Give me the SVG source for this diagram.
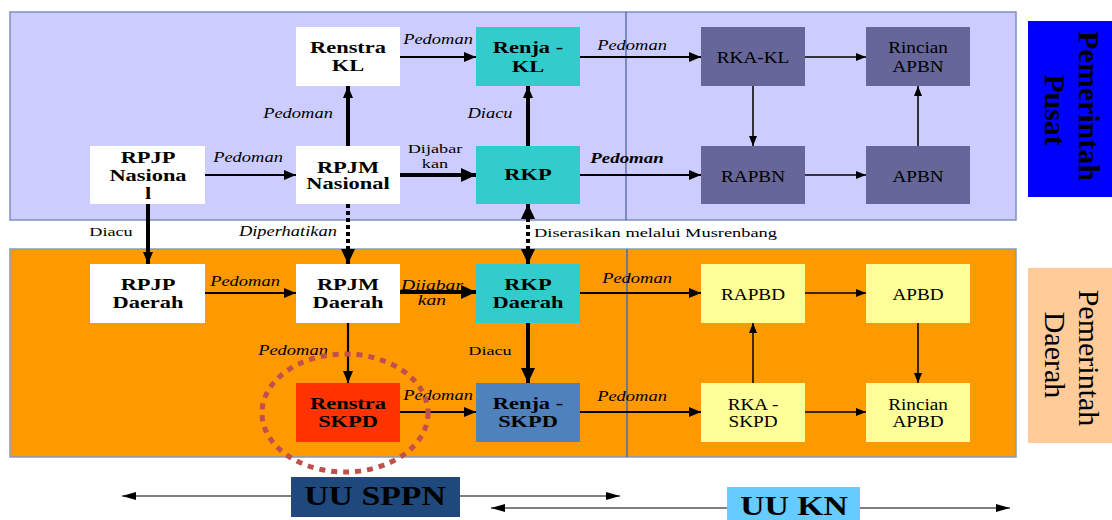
<svg xmlns="http://www.w3.org/2000/svg" width="1112" height="520" viewBox="0 0 1112 520">
<style>
.b{font-family:"Liberation Serif","Times New Roman",serif;font-weight:bold;font-size:16px;text-anchor:middle;fill:#000}
.r{font-family:"Liberation Serif","Times New Roman",serif;font-size:16px;text-anchor:middle;fill:#000}
.i{font-family:"Liberation Serif","Times New Roman",serif;font-style:italic;font-size:14px;text-anchor:middle;fill:#000}
.u{font-family:"Liberation Serif","Times New Roman",serif;font-size:13.5px;text-anchor:middle;fill:#000}
.side{font-family:"Liberation Serif","Times New Roman",serif;font-size:30px;text-anchor:middle;fill:#000}
.big{font-family:"Liberation Serif","Times New Roman",serif;font-weight:bold;font-size:27px;text-anchor:middle;fill:#000}
.ln{fill:none;stroke:#000}
.thin{stroke-width:1.5}
.mid{stroke-width:2.2}
.thick{stroke-width:4}
.dot{stroke-width:4;stroke-dasharray:4 3}
</style>
<defs>
<marker id="a1" markerUnits="userSpaceOnUse" markerWidth="10" markerHeight="8" refX="10" refY="4" orient="auto"><path d="M0,0L10,4L0,8z" fill="#000"/></marker>
<marker id="a2" markerUnits="userSpaceOnUse" markerWidth="12" markerHeight="10" refX="12" refY="5" orient="auto"><path d="M0,0L12,5L0,10z" fill="#000"/></marker>
<marker id="a3" markerUnits="userSpaceOnUse" markerWidth="15" markerHeight="14" refX="15" refY="7" orient="auto-start-reverse"><path d="M0,0L15,7L0,14z" fill="#000"/></marker>
<marker id="a0" markerUnits="userSpaceOnUse" markerWidth="14" markerHeight="8" refX="14" refY="4" orient="auto"><path d="M0,0L14,4L0,8z" fill="#000"/></marker>
</defs>

<g id="panels">
<rect x="10" y="12" width="1006" height="208" fill="#ccccff" stroke="#7f8fc0" stroke-width="1.5"/>
<line x1="626" y1="12" x2="626" y2="220" stroke="#3f5f9f" stroke-width="1.2"/>
<rect x="10" y="249" width="1006" height="208" fill="#ff9900" stroke="#8a9ab8" stroke-width="1.5"/>
<line x1="627" y1="249" x2="627" y2="457" stroke="#4a6aa8" stroke-width="1.5"/>
</g>

<g id="connectors">
<path class="ln mid" d="M205,175H296" marker-end="url(#a2)"/>
<path class="ln thick" d="M348,146V86" marker-end="url(#a2)"/>
<path class="ln mid" d="M400,57H476" marker-end="url(#a2)"/>
<path class="ln thick" d="M400,175H476" marker-end="url(#a3)"/>
<path class="ln thick" d="M528,146V86" marker-end="url(#a2)"/>
<path class="ln mid" d="M580,57H701" marker-end="url(#a2)"/>
<path class="ln mid" d="M580,175H701" marker-end="url(#a2)"/>
<path class="ln thin" d="M805,57H866" marker-end="url(#a1)"/>
<path class="ln thin" d="M753,86V146" marker-end="url(#a1)"/>
<path class="ln thin" d="M805,175H866" marker-end="url(#a1)"/>
<path class="ln thin" d="M918,146V86" marker-end="url(#a1)"/>
<path class="ln thick" d="M148,204V264" marker-end="url(#a2)"/>
<path class="ln dot" d="M348,204V264" marker-end="url(#a3)"/>
<path class="ln dot" d="M528,204V264" marker-start="url(#a3)" marker-end="url(#a3)"/>
<path class="ln mid" d="M205,293H296" marker-end="url(#a2)"/>
<path class="ln thick" d="M400,292H476" marker-end="url(#a3)"/>
<path class="ln mid" d="M580,293H701" marker-end="url(#a2)"/>
<path class="ln mid" d="M348,323V383" marker-end="url(#a2)"/>
<path class="ln thick" d="M528,323V383" marker-end="url(#a3)"/>
<path class="ln mid" d="M400,412H476" marker-end="url(#a2)"/>
<path class="ln mid" d="M580,412H701" marker-end="url(#a2)"/>
<path class="ln thin" d="M805,293H866" marker-end="url(#a1)"/>
<path class="ln thin" d="M753,383V323" marker-end="url(#a1)"/>
<path class="ln thin" d="M918,323V383" marker-end="url(#a1)"/>
<path class="ln thin" d="M805,412H866" marker-end="url(#a1)"/>
<path class="ln" stroke-width="1" d="M291,496H122" marker-end="url(#a0)"/>
<path class="ln" stroke-width="1" d="M460,496H620" marker-end="url(#a0)"/>
<path class="ln" stroke-width="1" d="M727,508H491" marker-end="url(#a0)"/>
<path class="ln" stroke-width="1" d="M860,508H1010" marker-end="url(#a0)"/>
</g>

<g id="labels">
<text class="i" transform="translate(248,162) scale(1.32,1)">Pedoman</text>
<text class="i" transform="translate(298,118) scale(1.32,1)">Pedoman</text>
<text class="i" transform="translate(438,44) scale(1.32,1)">Pedoman</text>
<text class="i" transform="translate(632,50) scale(1.32,1)">Pedoman</text>
<text class="i" transform="translate(490,118) scale(1.32,1)">Diacu</text>
<text class="i" font-weight="bold" font-size="14.5" transform="translate(627,163) scale(1.35,1)">Pedoman</text>
<text class="u" transform="translate(435,153) scale(1.35,1)">Dijabar</text>
<text class="u" transform="translate(435,168) scale(1.35,1)">kan</text>
<text class="u" transform="translate(111,236) scale(1.35,1)">Diacu</text>
<text class="i" style="text-anchor:end" transform="translate(337,236) scale(1.32,1)">Diperhatikan</text>
<text class="u" style="text-anchor:start" x="534" y="237" font-size="13.5" textLength="243" lengthAdjust="spacingAndGlyphs">Diserasikan melalui Musrenbang</text>
<text class="i" transform="translate(245,286) scale(1.32,1)">Pedoman</text>
<text class="i" transform="translate(432,290) scale(1.4,1)">Dijabar</text>
<text class="i" transform="translate(432,305) scale(1.4,1)">kan</text>
<text class="i" transform="translate(637,283) scale(1.32,1)">Pedoman</text>
<text class="i" transform="translate(293,355) scale(1.32,1)">Pedoman</text>
<text class="u" transform="translate(490,355) scale(1.35,1)">Diacu</text>
<text class="i" transform="translate(438,400) scale(1.32,1)">Pedoman</text>
<text class="i" transform="translate(632,401) scale(1.32,1)">Pedoman</text>
</g>

<g id="n-renstra-kl"><rect x="296" y="27" width="104" height="59" fill="#fff"/>
<text class="b" font-size="15" transform="translate(348,53) scale(1.4,1)">Renstra</text>
<text class="b" transform="translate(348,71) scale(1.4,1)">KL</text></g>
<g id="n-renja-kl"><rect x="476" y="27" width="104" height="59" fill="#33cccc"/>
<text class="b" transform="translate(528,53) scale(1.4,1)">Renja -</text>
<text class="b" transform="translate(528,72) scale(1.4,1)">KL</text></g>
<g id="n-rpjp-nasional"><rect x="90" y="146" width="115" height="58" fill="#fff"/>
<text class="b" transform="translate(148,163) scale(1.4,1)">RPJP</text>
<text class="b" font-size="17" transform="translate(148,181) scale(1.4,1)">Nasiona</text>
<text class="b" transform="translate(148,199) scale(1.4,1)">l</text></g>
<g id="n-rpjm-nasional"><rect x="296" y="146" width="104" height="58" fill="#fff"/>
<text class="b" font-size="17" transform="translate(348,173) scale(1.4,1)">RPJM</text>
<text class="b" font-size="14" transform="translate(348,189) scale(1.4,1)">Nasional</text></g>
<g id="n-rkp"><rect x="476" y="146" width="104" height="58" fill="#33cccc"/>
<text class="b" font-size="16.5" transform="translate(528,180) scale(1.4,1)">RKP</text></g>
<g id="n-rka-kl"><rect x="701" y="27" width="104" height="59" fill="#666699"/>
<text class="r" transform="translate(753,63) scale(1.2,1)">RKA-KL</text></g>
<g id="n-rincian-apbn"><rect x="866" y="27" width="104" height="59" fill="#666699"/>
<text class="r" transform="translate(918,53) scale(1.2,1)">Rincian</text>
<text class="r" transform="translate(918,72) scale(1.2,1)">APBN</text></g>
<g id="n-rapbn"><rect x="701" y="146" width="104" height="58" fill="#666699"/>
<text class="r" transform="translate(753,182) scale(1.2,1)">RAPBN</text></g>
<g id="n-apbn"><rect x="866" y="146" width="104" height="58" fill="#666699"/>
<text class="r" transform="translate(918,182) scale(1.2,1)">APBN</text></g>
<g id="n-pemerintah-pusat"><rect x="1028" y="21" width="84" height="176" fill="#0000ff"/>
<text class="side" font-weight="bold" transform="translate(1079,106) rotate(90)">Pemerintah</text>
<text class="side" font-weight="bold" transform="translate(1045,110) rotate(90)">Pusat</text></g>

<g id="n-rpjp-daerah"><rect x="90" y="264" width="115" height="59" fill="#fff"/>
<text class="b" transform="translate(148,290) scale(1.4,1)">RPJP</text>
<text class="b" transform="translate(148,308) scale(1.4,1)">Daerah</text></g>
<g id="n-rpjm-daerah"><rect x="296" y="264" width="104" height="59" fill="#fff"/>
<text class="b" transform="translate(348,290) scale(1.4,1)">RPJM</text>
<text class="b" transform="translate(348,308) scale(1.4,1)">Daerah</text></g>
<g id="n-rkp-daerah"><rect x="476" y="264" width="104" height="59" fill="#33cccc"/>
<text class="b" transform="translate(528,290) scale(1.4,1)">RKP</text>
<text class="b" transform="translate(528,308) scale(1.4,1)">Daerah</text></g>
<g id="n-renstra-skpd"><rect x="296" y="383" width="104" height="59" fill="#ff3300"/>
<text class="b" font-size="15" transform="translate(348,409) scale(1.4,1)">Renstra</text>
<text class="b" transform="translate(348,427) scale(1.4,1)">SKPD</text></g>
<g id="n-renja-skpd"><rect x="476" y="383" width="104" height="59" fill="#4f81bd"/>
<text class="b" font-size="17" transform="translate(528,409) scale(1.4,1)">Renja -</text>
<text class="b" font-size="17" transform="translate(528,427) scale(1.4,1)">SKPD</text></g>
<g id="n-rapbd"><rect x="701" y="264" width="104" height="59" fill="#ffff99"/>
<text class="r" transform="translate(753,300) scale(1.2,1)">RAPBD</text></g>
<g id="n-apbd"><rect x="866" y="264" width="104" height="59" fill="#ffff99"/>
<text class="r" transform="translate(918,300) scale(1.2,1)">APBD</text></g>
<g id="n-rka-skpd"><rect x="701" y="383" width="104" height="59" fill="#ffff99"/>
<text class="r" transform="translate(753,410) scale(1.2,1)">RKA -</text>
<text class="r" transform="translate(753,427) scale(1.2,1)">SKPD</text></g>
<g id="n-rincian-apbd"><rect x="866" y="383" width="104" height="59" fill="#ffff99"/>
<text class="r" transform="translate(918,410) scale(1.2,1)">Rincian</text>
<text class="r" transform="translate(918,427) scale(1.2,1)">APBD</text></g>
<g id="n-pemerintah-daerah"><rect x="1028" y="268" width="84" height="175" fill="#ffcc99"/>
<text class="side" transform="translate(1079,358) rotate(90)">Pemerintah</text>
<text class="side" transform="translate(1045,355) rotate(90)">Daerah</text></g>

<g id="highlight"><ellipse cx="345" cy="413" rx="83" ry="59" fill="none" stroke="#c0504d" stroke-width="5" stroke-dasharray="6 6"/></g>

<g id="n-uu-sppn"><rect x="291" y="477" width="169" height="40" fill="#1f497d"/>
<text class="big" transform="translate(375,505) scale(1.25,1)">UU SPPN</text></g>
<g id="n-uu-kn"><rect x="727" y="487" width="133" height="33" fill="#66ccff"/>
<text class="big" transform="translate(794,515) scale(1.25,1)">UU KN</text></g>
</svg>
